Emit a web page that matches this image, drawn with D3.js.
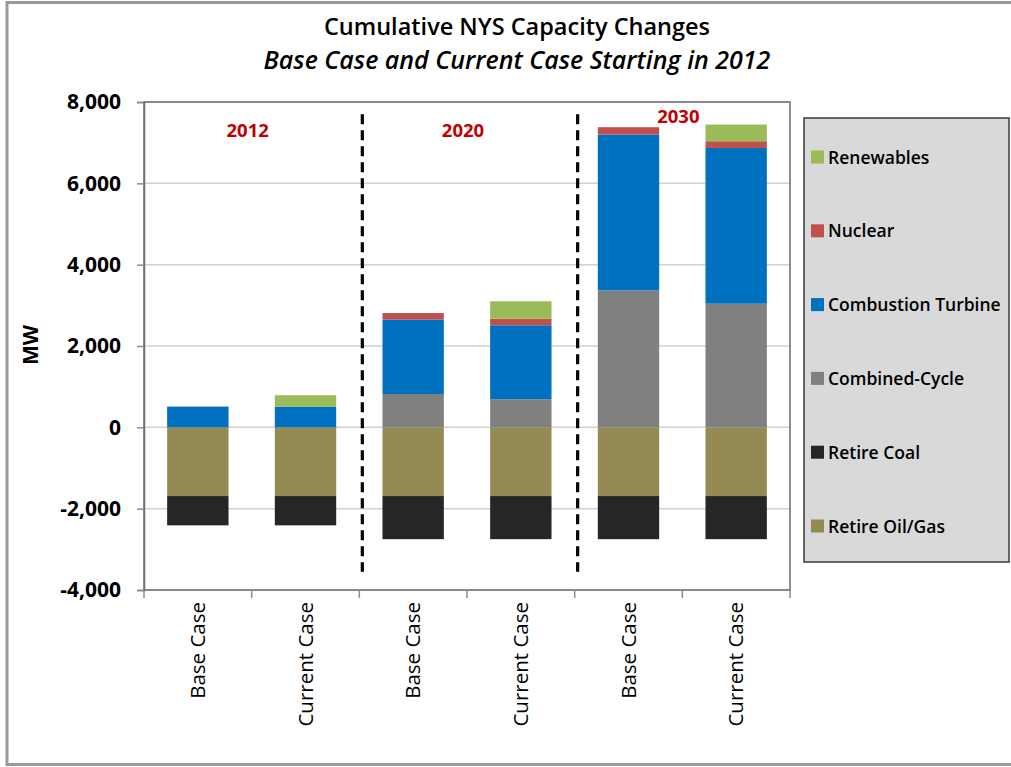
<!DOCTYPE html>
<html>
<head>
<meta charset="utf-8">
<script src="https://cdn.jsdelivr.net/npm/d3@7"></script>
<style>
  html, body { margin: 0; padding: 0; background: #ffffff; }
  svg { display: block; font-family: "Open Sans", "DejaVu Sans", sans-serif; }
</style>
</head>
<body>
<svg id="chart" width="1011" height="767"></svg>
<script>
// Cumulative capacity changes (MW) per case and study year
const categories = ["Base Case", "Current Case", "Base Case", "Current Case", "Base Case", "Current Case"];
const years = ["2012", "2020", "2030"];
const retireOilGas = [-1690, -1690, -1690, -1690, -1690, -1690];
const retireCoal = [-720, -720, -1060, -1060, -1060, -1060];
const combinedCycle = [0, 0, 820, 690, 3370, 3040];
const combustionTurbine = [510, 510, 1830, 1820, 3830, 3830];
const nuclear = [0, 0, 160, 160, 180, 165];
const renewables = [0, 280, 0, 430, 0, 410];
const yTicks = [-4000, -2000, 0, 2000, 4000, 6000, 8000];

const seriesKeys = ["Retire Oil/Gas", "Retire Coal", "Combined-Cycle", "Combustion Turbine", "Nuclear", "Renewables"];
const seriesValues = [retireOilGas, retireCoal, combinedCycle, combustionTurbine, nuclear, renewables];
const seriesColors = ["#948a54", "#262626", "#808080", "#0070c0", "#c0504d", "#9bbb59"];
const legendOrder = ["Renewables", "Nuclear", "Combustion Turbine", "Combined-Cycle", "Retire Coal", "Retire Oil/Gas"];

const rows = categories.map((c, i) => {
  const r = { idx: i, cat: c };
  seriesKeys.forEach((k, j) => { r[k] = seriesValues[j][i]; });
  return r;
});

const svg = d3.select("#chart");
const W = 1011, H = 767;
const plot = { left: 144, right: 790, top: 102, bottom: 590 };

// outer frame
svg.append("rect")
  .attr("x", 7).attr("y", 2.5).attr("width", W + 10).attr("height", 762)
  .attr("fill", "#ffffff").attr("stroke", "#999999").attr("stroke-width", 3);

// titles
svg.append("text").attr("x", 517).attr("y", 35)
  .attr("text-anchor", "middle").attr("font-size", 23.5).attr("font-weight", 600)
  .attr("fill", "#000").text("Cumulative NYS Capacity Changes");
svg.append("text").attr("x", 517).attr("y", 69)
  .attr("text-anchor", "middle").attr("font-size", 25).attr("font-style", "italic").attr("font-weight", 600)
  .attr("fill", "#000").text("Base Case and Current Case Starting in 2012");

const x = d3.scaleBand()
  .domain(d3.range(categories.length))
  .range([plot.left, plot.right])
  .paddingInner(0.43).paddingOuter(0.215);

const y = d3.scaleLinear().domain([-4000, 8000]).range([plot.bottom, plot.top]);

// gridlines
svg.append("g").selectAll("line").data(yTicks).join("line")
  .attr("x1", plot.left).attr("x2", plot.right)
  .attr("y1", d => y(d)).attr("y2", d => y(d))
  .attr("stroke", "#d0d0d0").attr("stroke-width", 1.5);

// stacked bars
const stack = d3.stack().keys(seriesKeys).offset(d3.stackOffsetDiverging);
const stacked = stack(rows);
const colorOf = d3.scaleOrdinal().domain(seriesKeys).range(seriesColors);

svg.append("g").selectAll("g").data(stacked).join("g")
  .attr("fill", d => colorOf(d.key))
  .selectAll("rect").data(d => d).join("rect")
  .attr("x", d => x(d.data.idx))
  .attr("width", x.bandwidth())
  .attr("y", d => y(Math.max(d[0], d[1])))
  .attr("height", d => Math.abs(y(d[0]) - y(d[1])));

// plot border
svg.append("rect")
  .attr("x", plot.left).attr("y", plot.top)
  .attr("width", plot.right - plot.left).attr("height", plot.bottom - plot.top)
  .attr("fill", "none").attr("stroke", "#6e6e6e").attr("stroke-width", 1.5);

// y axis
const locale = d3.formatLocale({ decimal: ".", thousands: ",", grouping: [3], currency: ["$", ""], minus: "-" });
const yAxis = d3.axisLeft(y).tickValues(yTicks).tickSize(7).tickPadding(16)
  .tickFormat(locale.format(","));
const gy = svg.append("g").attr("transform", `translate(${plot.left},0)`).call(yAxis);
gy.select(".domain").attr("stroke", "#6e6e6e").attr("stroke-width", 1.5);
gy.selectAll(".tick line").attr("stroke", "#8c8c8c").attr("stroke-width", 1.5);
gy.selectAll(".tick text")
  .attr("font-family", "'Open Sans', sans-serif")
  .attr("font-size", 21).attr("font-weight", 700).attr("fill", "#000");

svg.append("text")
  .attr("transform", "translate(38,345) rotate(-90)")
  .attr("text-anchor", "middle").attr("font-size", 21).attr("font-weight", 700)
  .text("MW");

// x axis (category boundaries as ticks)
const bounds = d3.range(categories.length + 1).map(i => plot.left + i * x.step());
svg.append("g").selectAll("line").data(bounds).join("line")
  .attr("x1", d => d).attr("x2", d => d)
  .attr("y1", plot.bottom).attr("y2", plot.bottom + 8)
  .attr("stroke", "#8c8c8c").attr("stroke-width", 1.5);

svg.append("g").selectAll("text").data(rows).join("text")
  .attr("transform", d => `translate(${x(d.idx) + x.bandwidth() / 2 + 7},602) rotate(-90)`)
  .attr("text-anchor", "end")
  .attr("font-size", 20.5).attr("fill", "#000")
  .text(d => d.cat);

// year dividers
const dividers = [2, 4];
svg.append("g").selectAll("line").data(dividers).join("line")
  .attr("x1", d => plot.left + d * x.step() + 3).attr("x2", d => plot.left + d * x.step() + 3)
  .attr("y1", y(7700)).attr("y2", y(-3550))
  .attr("stroke", "#000").attr("stroke-width", 3.2).attr("stroke-dasharray", "10,6");

// year labels
const yearLabelValue = [7300, 7300, 7640];
svg.append("g").selectAll("text").data(years).join("text")
  .attr("x", (d, i) => plot.left + (2 * i + 1) * x.step() - 4)
  .attr("y", (d, i) => y(yearLabelValue[i]) + 6.5)
  .attr("text-anchor", "middle").attr("font-size", 18.5).attr("font-weight", 700)
  .attr("fill", "#c00000").text(d => d);

// legend
const lg = svg.append("g");
lg.append("rect").attr("x", 804).attr("y", 118).attr("width", 205).attr("height", 444)
  .attr("fill", "#d9d9d9").attr("stroke", "#3a3a3a").attr("stroke-width", 1.5);
const items = lg.selectAll("g").data(legendOrder).join("g")
  .attr("transform", (d, i) => `translate(811,${157 + i * 73.8})`);
items.append("rect").attr("x", 0).attr("y", -6.5).attr("width", 13).attr("height", 13)
  .attr("fill", d => colorOf(d));
items.append("text").attr("x", 17).attr("y", 6.5)
  .attr("font-size", 17.5).attr("font-weight", 600).attr("fill", "#000")
  .text(d => d);
</script>
</body>
</html>
